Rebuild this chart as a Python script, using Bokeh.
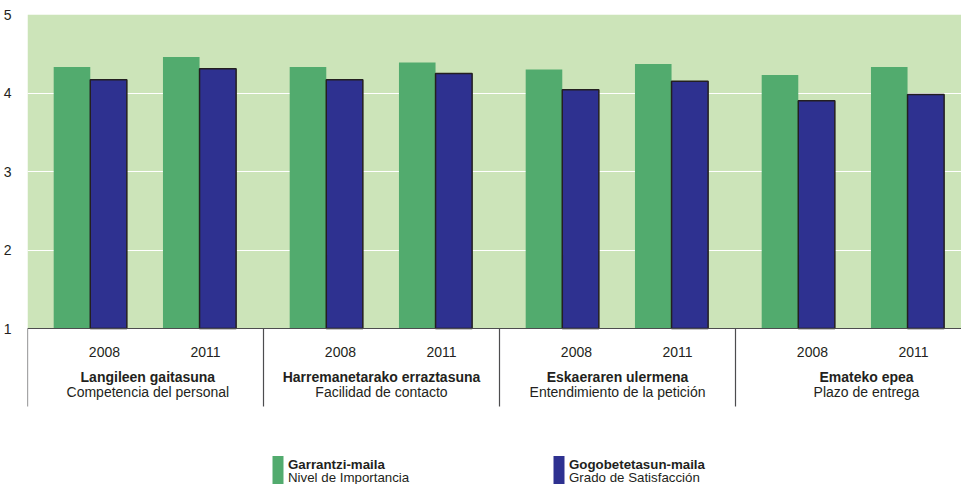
from bokeh.plotting import figure
from bokeh.models import Range1d, FixedTicker, BoxAnnotation, Span
from bokeh.core.properties import value
from bokeh.embed import file_html
from bokeh.resources import INLINE

# ---- data -------------------------------------------------------------
categories_eu = ["Langileen gaitasuna", "Harremanetarako erraztasuna",
                 "Eskaeraren ulermena", "Emateko epea"]
categories_es = ["Competencia del personal", "Facilidad de contacto",
                 "Entendimiento de la petición", "Plazo de entrega"]
years = ["2008", "2011"]
# one value per (category, year), in the order above
importancia = [4.33, 4.46, 4.33, 4.39, 4.30, 4.37, 4.23, 4.33]
satisfaccion = [4.17, 4.31, 4.17, 4.25, 4.04, 4.15, 3.90, 3.98]
series_eu = ["Garrantzi-maila", "Gogobetetasun-maila"]
series_es = ["Nivel de Importancia", "Grado de Satisfacción"]
y_ticks = [1, 2, 3, 4, 5]

# ---- styling / layout ---------------------------------------------------
W, H = 961, 484
LEFT, TOP = 27, 14            # frame offsets in pixels
GROUP_PX = 236                # width of one category in pixels
UNIT_PX = 78.5                # pixels per unit on the value axis
BG = "#cce4b9"
GREEN = "#52ab6e"
BLUE = "#2e3190"
INK = "#231f20"
AXIS = "#4d4d4f"
FONT = value("Liberation Sans")
FS = "14px"
FS_LEGEND = "13.3px"

x_end = (W - LEFT) / GROUP_PX
y_top = 5
y_bottom = y_top - (H - TOP) / UNIT_PX


def px_x(px):
    return (px - LEFT) / GROUP_PX


def px_y(py):
    return y_top - (py - TOP) / UNIT_PX


year_centre = [0.266, 0.729]      # bar-pair centre within a group
year_label = [0.326, 0.754]       # year label centre within a group
group_label = [0.51, 0.50, 0.50, 0.555]
bar_w = 0.155

p = figure(width=W, height=H, output_backend="svg", toolbar_location=None,
           x_range=Range1d(0, x_end), y_range=Range1d(y_bottom, y_top),
           min_border_left=LEFT, min_border_top=TOP, min_border_right=0,
           min_border_bottom=0, x_axis_type=None)
p.background_fill_color = "white"
p.border_fill_color = "white"
p.outline_line_color = None

# light green panel above the value-axis baseline, beneath the grid
p.add_layout(BoxAnnotation(bottom=1, top=y_top, fill_color=BG, fill_alpha=1,
                           line_color=None, level="image"))

p.xgrid.visible = False
p.ygrid.ticker = FixedTicker(ticks=[2, 3, 4])
p.ygrid.grid_line_color = "white"
p.ygrid.grid_line_width = 1.2

ax = p.yaxis[0]
ax.ticker = FixedTicker(ticks=y_ticks)
ax.axis_line_color = None
ax.major_tick_line_color = None
ax.minor_tick_line_color = None
ax.major_label_standoff = 10
ax.major_label_text_font = "Liberation Sans"
ax.major_label_text_font_size = FS
ax.major_label_text_color = INK

# bars
gx, bx, top_g, top_b = [], [], [], []
for ci in range(len(categories_eu)):
    for yi in range(len(years)):
        c = ci + year_centre[yi]
        gx.append(c - bar_w / 2)
        bx.append(c + bar_w / 2)
        top_g.append(importancia[ci * len(years) + yi])
        top_b.append(satisfaccion[ci * len(years) + yi])

p.vbar(x=gx, top=top_g, bottom=1, width=bar_w, fill_color=GREEN,
       line_color=None)
p.vbar(x=bx, top=top_b, bottom=1, width=bar_w, fill_color=BLUE,
       line_color=INK, line_width=1.5)

# category axis: baseline, separators, labels
p.add_layout(Span(location=1, dimension="width", line_color=AXIS,
                  line_width=1.2))
sep_x = list(range(len(categories_eu)))
p.segment(x0=sep_x, y0=[1] * len(sep_x), x1=sep_x,
          y1=[px_y(406)] * len(sep_x), line_color=AXIS, line_width=1.2)

yl_x, yl_t = [], []
for ci in range(len(categories_eu)):
    for yi, yr in enumerate(years):
        yl_x.append(ci + year_label[yi])
        yl_t.append(yr)
p.text(x=yl_x, y=[px_y(351)] * len(yl_x), text=yl_t, text_font=FONT,
       text_font_size=FS, text_color=INK, text_align="center",
       text_baseline="middle")

gl_x = [ci + group_label[ci] for ci in range(len(categories_eu))]
p.text(x=gl_x, y=[px_y(376.5)] * len(gl_x), text=categories_eu,
       text_font=FONT, text_font_size=FS, text_font_style="bold",
       text_color=INK, text_align="center", text_baseline="middle")
p.text(x=gl_x, y=[px_y(391.5)] * len(gl_x), text=categories_es,
       text_font=FONT, text_font_size=FS, text_color=INK,
       text_align="center", text_baseline="middle")

# legend
key_left = [272, 553]
key_w = 11
for i, col in enumerate([GREEN, BLUE]):
    p.quad(left=[px_x(key_left[i])], right=[px_x(key_left[i] + key_w)],
           top=[px_y(455.5)], bottom=[y_bottom], fill_color=col,
           line_color=None)
    p.text(x=[px_x(key_left[i] + 15.5)], y=[px_y(463.5)], text=[series_eu[i]],
           text_font=FONT, text_font_size=FS_LEGEND, text_font_style="bold",
           text_color=INK, text_align="left", text_baseline="middle")
    p.text(x=[px_x(key_left[i] + 15.5)], y=[px_y(476.5)], text=[series_es[i]],
           text_font=FONT, text_font_size=FS_LEGEND, text_color=INK,
           text_align="left", text_baseline="middle")

open("out.html", "w").write(file_html(p, INLINE))
